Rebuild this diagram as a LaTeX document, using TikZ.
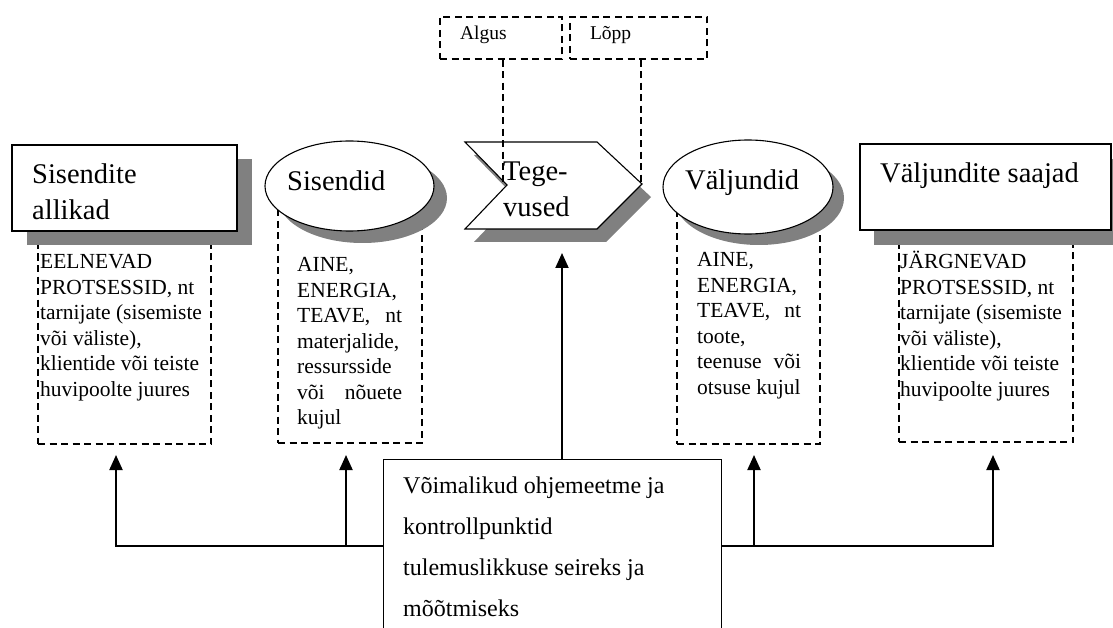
\documentclass[tikz,border=0pt]{standalone}
\usepackage{fontspec}
\setmainfont{Liberation Serif}
\usetikzlibrary{arrows.meta,shadows,shapes.geometric}
\definecolor{shadowgray}{RGB}{128,128,128}
\tikzset{
  solidbox/.style={draw=black, line width=1.4pt, fill=white, rectangle, inner sep=0pt},
  oval/.style={draw=black, line width=1.1pt, fill=white, ellipse, inner sep=0pt},
  dashbox/.style={draw=black, line width=1.4pt, dash pattern=on 7pt off 4.5pt, rectangle, inner sep=0pt},
  dline/.style={draw=black, line width=1.3pt, dash pattern=on 7pt off 4.5pt},
  title/.style={anchor=base west, inner sep=0pt, font=\fontsize{28.5}{36}\selectfont},
  note/.style={anchor=base west, inner sep=0pt, font=\fontsize{21.5}{25.4}\selectfont},
  tag/.style={font=\fontsize{19.5}{23}\selectfont, align=left, text height=14pt, text depth=11.5pt, inner xsep=20pt},
  arr/.style={draw=black, line width=2pt, -{Triangle[width=13pt,length=15pt]}},
}
\begin{document}
\begin{tikzpicture}[x=1pt,y=-1pt]
\useasboundingbox (0,0) rectangle (1113,628);

% dashed detail frames (their tops sit under the headers)
\node[dashbox, minimum width=173, minimum height=204] (db1) at (124.5,342) {};
\node[dashbox, minimum width=144, minimum height=243] (db2) at (350,321.5) {};
\node[dashbox, minimum width=143, minimum height=244] (db3) at (748.5,322) {};
\node[dashbox, minimum width=174, minimum height=202] (db4) at (986,341) {};

% headers
\node[solidbox, minimum width=225, minimum height=86,
      drop shadow={shadow xshift=15pt, shadow yshift=-14pt, fill=shadowgray, opacity=1}] (src) at (124.5,188) {};
\node[oval, minimum width=169, minimum height=90,
      drop shadow={shadow xshift=13pt, shadow yshift=-12pt, fill=shadowgray, opacity=1}] (inp) at (349.5,186) {};
\node[oval, minimum width=170, minimum height=94,
      drop shadow={shadow xshift=11pt, shadow yshift=-11pt, fill=shadowgray, opacity=1}] (outp) at (748,187) {};
\node[solidbox, minimum width=251, minimum height=86,
      drop shadow={shadow xshift=14pt, shadow yshift=-15pt, fill=shadowgray, opacity=1}] (rcv) at (985.5,187) {};

% activity chevron with its shadow
\fill[shadowgray] (474,155) -- (606,155) -- (651,197) -- (606,242) -- (474,242) -- (516,198) -- cycle;
\filldraw[fill=white, draw=black, line width=1.1pt]
  (465,142) -- (597,142) -- (642,184) -- (597,229) -- (465,229) -- (507,185) -- cycle;

% header texts
\node[title] (srct) at (32,184) {\begin{tabular}[t]{@{}l@{}}Sisendite\\allikad\end{tabular}};
\node[title] (inpt) at (287,191) {Sisendid};
\node[title] (actt) at (503,181) {\begin{tabular}[t]{@{}l@{}}Tege-\\vused\end{tabular}};
\node[title] (outpt) at (685,190) {Väljundid};
\node[title] (rcvt) at (880,183) {Väljundite saajad};

% detail texts
\node[note] (n1) at (40,269) {\parbox[t]{170pt}{EELNEVAD\\PROTSESSID, nt\\tarnijate (sisemiste\\või väliste),\\klientide või teiste\\huvipoolte juures}};
\node[note] (n2) at (297,272) {\parbox[t]{105pt}{AINE,\\ENERGIA,\\TEAVE,\hfill nt\\materjalide,\\ressursside\\või\hfill nõuete\\kujul}};
\node[note] (n3) at (697,267) {\parbox[t]{104pt}{AINE,\\ENERGIA,\\TEAVE,\hfill nt\\toote,\\teenuse\hfill või\\otsuse kujul}};
\node[note] (n4) at (900,269) {\parbox[t]{172pt}{JÄRGNEVAD\\PROTSESSID, nt\\tarnijate (sisemiste\\või väliste),\\klientide või teiste\\huvipoolte juures}};

% start and end markers
\node[dashbox, tag, minimum width=122, minimum height=42, text width=82pt] (start) at (501,38) {Algus};
\node[dashbox, tag, minimum width=137, minimum height=42, text width=97pt] (finish) at (638.5,38) {Lõpp};
\coordinate (actin) at (503,182);
\coordinate (actout) at (641,184);
\draw[dline] (start.south -| actin) -- (actin);
\draw[dline] (finish.south -| actout) -- (actout);

% control box and its links
\node[rectangle, draw=black, line width=1pt, fill=white, inner sep=0pt,
      minimum width=338, minimum height=174] (ctrl) at (552,546) {};
\node[anchor=base west, inner sep=0pt, font=\fontsize{24}{41}\selectfont] (ctrlt) at (403,493)
  {\parbox[t]{310pt}{Võimalikud ohjemeetme ja\\kontrollpunktid\\tulemuslikkuse seireks ja\\mõõtmiseks}};

\coordinate (a1) at (116,455);
\coordinate (a2) at (346,455);
\coordinate (a3) at (754,455);
\coordinate (a4) at (993,455);
\coordinate (a0) at (562,253);
\draw[arr] (ctrl.west) -| (a1);
\draw[arr] (a2 |- ctrl.west) -- (a2);
\draw[arr] (ctrl.east) -| (a4);
\draw[arr] (a3 |- ctrl.east) -- (a3);
\draw[arr] (a0 |- ctrl.north) -- (a0);
\end{tikzpicture}
\end{document}
